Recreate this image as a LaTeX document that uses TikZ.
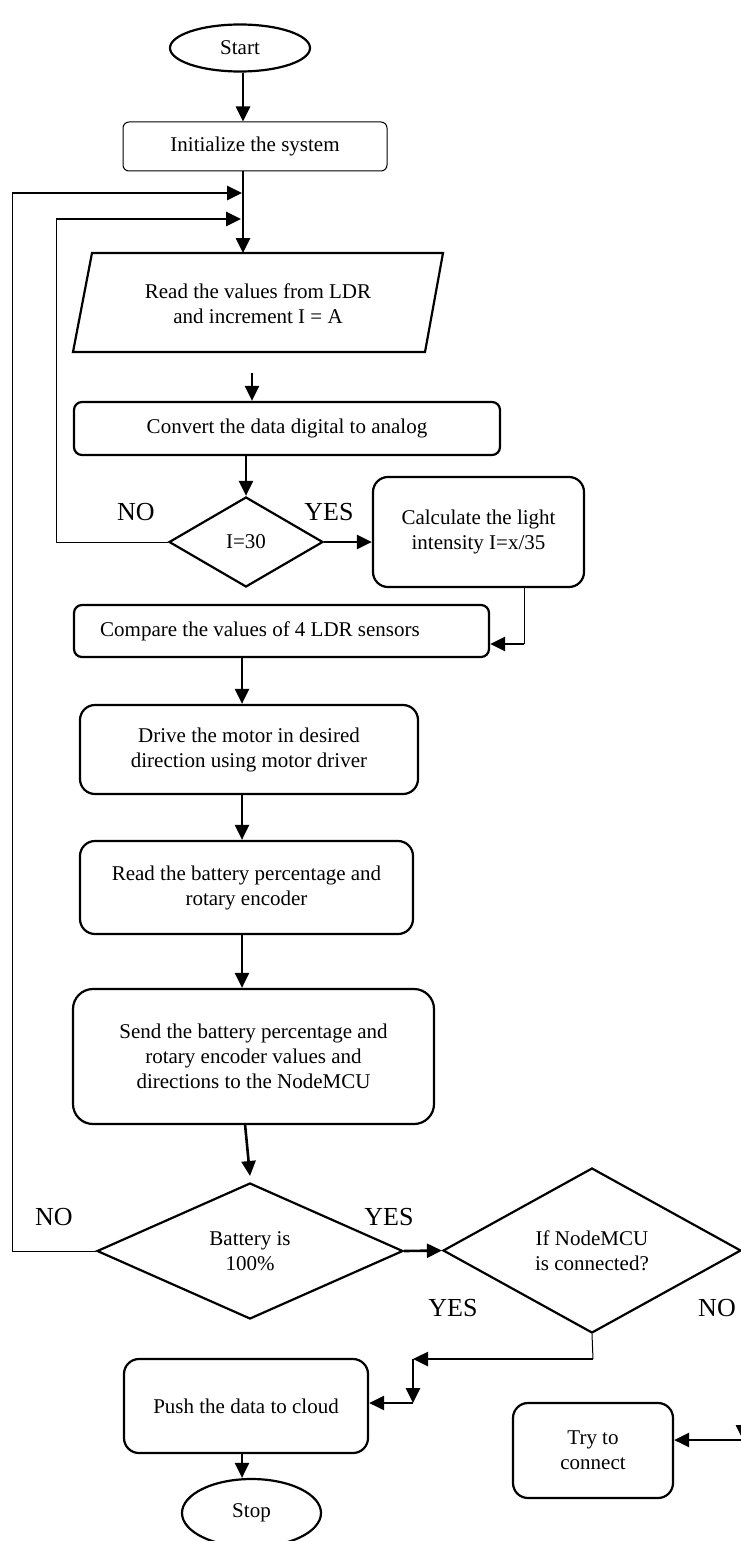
\documentclass[tikz,border=0pt]{standalone}
\usepackage{fontspec}
\setmainfont{Liberation Serif}
\usetikzlibrary{arrows.meta,shapes.geometric}
\tikzset{
 tfont/.style={font=\fontsize{21}{25}\selectfont},
 procbox/.style={draw, line width=2.2pt, align=center, inner sep=0pt, tfont},
 decision/.style={diamond, aspect=2, draw, line width=2.2pt, align=center, inner sep=0pt, tfont},
 term/.style={ellipse, draw, line width=2.2pt, inner sep=0pt, tfont},
 lab/.style={font=\fontsize{26}{30}\selectfont, inner sep=0pt},
 arr/.style={line width=2.6pt, -{Triangle[length=15pt,width=14pt]}},
 thinline/.style={line width=1pt},
 txt/.style={align=center, inner sep=0pt, tfont},
}
\begin{document}
\begin{tikzpicture}[x=1pt,y=-1pt]
\useasboundingbox (0,0) rectangle (740,1541);

% nodes
\node[term, minimum width=140pt, minimum height=47pt] (start) at (240,48) {Start};
\node[procbox, line width=1pt, rounded corners=6pt, minimum width=264pt, minimum height=49pt] (init) at (255,146.5) {Initialize the system};

\draw[line width=2.2pt] (92,253) -- (443,253) -- (425,352) -- (73,352) -- cycle;
\node[txt] (read) at (258,304) {Read the values from LDR\\and increment I = A};
\coordinate (readtop) at (243,253);

\node[procbox, rounded corners=8pt, minimum width=426pt, minimum height=53pt] (convert) at (287,428.5) {Convert the data digital to analog};
\node[decision, minimum width=154pt, minimum height=90pt] (i30) at (246,542) {I=30};
\node[procbox, rounded corners=15pt, minimum width=211pt, minimum height=110pt] (calc) at (478.5,532) {Calculate the light\\intensity I=x/35};
\node[procbox, rounded corners=8pt, minimum width=415pt, minimum height=52pt] (compare) at (281.5,631) {Compare the values of 4 LDR sensors\hspace*{43pt}};
\node[procbox, rounded corners=15pt, minimum width=338pt, minimum height=89pt] (drive) at (249,749.5) {Drive the motor in desired\\direction using motor driver};
\node[procbox, rounded corners=15pt, minimum width=333pt, minimum height=93pt] (readbat) at (246.5,887.5) {Read the battery percentage and\\rotary encoder};
\node[procbox, rounded corners=20pt, minimum width=361pt, minimum height=135pt] (send) at (253.5,1056.5) {Send the battery percentage and\\rotary encoder values and\\directions to the NodeMCU};
\node[decision, minimum width=306pt, minimum height=136pt] (battery) at (250,1251) {Battery is\\100\%};
\node[decision, minimum width=298pt, minimum height=165pt] (nodemcu) at (592,1250.5) {If NodeMCU\\is connected?};
\node[procbox, rounded corners=15pt, minimum width=244pt, minimum height=94pt] (push) at (246,1406) {Push the data to cloud};
\node[term, minimum width=139pt, minimum height=68pt] (stop) at (251.5,1513) {Stop};
\node[procbox, rounded corners=15pt, minimum width=160pt, minimum height=95pt] (try) at (593,1450.5) {Try to\\connect};

% labels
\node[lab] (no1) at (136,512) {NO};
\node[lab] (yes1) at (329,512) {YES};
\node[lab] (no2) at (54,1217) {NO};
\node[lab] (yes2) at (389,1217) {YES};
\node[lab] (yes3) at (453,1308) {YES};
\node[lab] (no3) at (717,1308) {NO};

% coordinates
\coordinate (col) at (242,0);
\coordinate (j1) at (242,193);
\coordinate (j2) at (241,219);
\coordinate (l1) at (12,193);
\coordinate (l2) at (56,219);
\coordinate (a1) at (252,373);
\coordinate (k1) at (524,644);
\coordinate (s1) at (245,1124);
\coordinate (s2) at (250,1176);
\coordinate (m1) at (593,1359);
\coordinate (m2) at (413,1359);
\coordinate (m3) at (413,1403);
\coordinate (r1) at (743,1252);
\coordinate (r2) at (743,1440);

% connectors
\draw[arr] (start.south -| readtop) -- (init.north -| readtop);
\draw[arr] (init.south -| readtop) -- (readtop);
\draw[thinline] (battery.west) -| (l1);
\draw[arr] (l1) -- (j1);
\draw[thinline] (i30.west) -| (l2);
\draw[arr] (l2) -- (j2);
\draw[arr] (a1) -- (a1 |- convert.north);
\draw[arr] (i30.north |- convert.south) -- (i30.north);
\draw[arr] (i30.east) -- (i30.east -| calc.west);
\draw[thinline] (k1 |- calc.south) -- (k1);
\draw[arr] (k1) -- (k1 -| compare.east);
\draw[arr] (col |- compare.south) -- (col |- drive.north);
\draw[arr] (col |- drive.south) -- (col |- readbat.north);
\draw[arr] (col |- readbat.south) -- (col |- send.north);
\draw[arr] (s1) -- (s2);
\draw[arr] (battery.east) -- (nodemcu.west);
\draw[thinline] (nodemcu.south) -- (m1);
\draw[arr] (m1) -- (m2);
\draw[arr] (m2) -- (m3);
\draw[arr] (m3) -- (m3 -| push.east);
\draw[arr] (col |- push.south) -- (col |- stop.north);
\draw[arr] (nodemcu.east) -- (r1) -- (r2);
\draw[arr] (r2) -- (r2 -| try.east);
\end{tikzpicture}
\end{document}
